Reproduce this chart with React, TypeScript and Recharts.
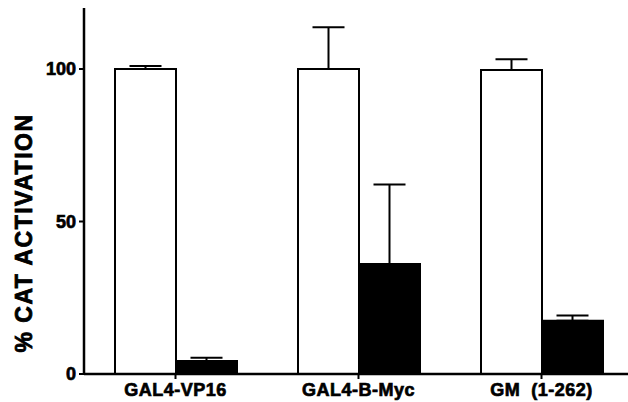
import React from "react";
import { BarChart, Bar, XAxis, YAxis, ErrorBar, Label } from "recharts";

// % CAT activation, open bars vs filled bars, upper error only
const constructs = ["GAL4-VP16", "GAL4-B-Myc", "GM\u00A0\u00A0(1-262)"];
const openValues = [100, 100, 99.7];
const openErrors = [1, 13.7, 3.5];
const filledValues = [4.3, 36.1, 17.5];
const filledErrors = [1, 26, 1.7];
const yTicks = [0, 50, 100];

const data = constructs.map((name, i) => ({
  name,
  open: openValues[i],
  openErr: [0, openErrors[i]],
  filled: filledValues[i],
  filledErr: [0, filledErrors[i]],
}));

const FONT = "'Liberation Sans', Arial, sans-serif";
// heavy, printed-figure look: bold plus a thin outline
const tick = {
  fontSize: 18, fontWeight: 700, fill: "#000", fontFamily: FONT,
  stroke: "#000", strokeWidth: 0.7,
} as const;

export default function App() {
  return (
    <div style={{ position: "absolute", left: 0, top: 0, width: 628, height: 402, overflow: "hidden", background: "#fff" }}>
      <BarChart width={640} height={402} data={data} margin={{ top: 8, right: 7, bottom: 0, left: 0 }}
        barGap={0} barSize={61}>
        <XAxis dataKey="name" height={28} axisLine={{ stroke: "#000", strokeWidth: 2.5 }}
          tickLine={{ stroke: "#000", strokeWidth: 2 }} tickSize={5} tickMargin={4}
          tick={{ ...tick, letterSpacing: 0.5 }} interval={0} />
        <YAxis domain={[0, 120]} ticks={yTicks} width={84} axisLine={{ stroke: "#000", strokeWidth: 2.5 }}
          tickLine={{ stroke: "#000", strokeWidth: 2 }} tickSize={5} tickMargin={3} tick={tick}>
          <Label
            content={() => (
              <text x={24} y={233} transform="rotate(-90 24 233)" textAnchor="middle" dominantBaseline="central"
                style={{ fontSize: 23, fontWeight: 700, fontFamily: FONT, letterSpacing: 1.5, fill: "#000", stroke: "#000", strokeWidth: 0.8 }}>
                % CAT ACTIVATION
              </text>
            )}
          />
        </YAxis>
        <Bar dataKey="open" fill="#fff" stroke="#000" strokeWidth={2} isAnimationActive={false}>
          <ErrorBar dataKey="openErr" width={16} stroke="#000" strokeWidth={2} direction="y" />
        </Bar>
        <Bar dataKey="filled" fill="#000" stroke="#000" strokeWidth={2} isAnimationActive={false}>
          <ErrorBar dataKey="filledErr" width={16} stroke="#000" strokeWidth={2} direction="y" />
        </Bar>
      </BarChart>
    </div>
  );
}
